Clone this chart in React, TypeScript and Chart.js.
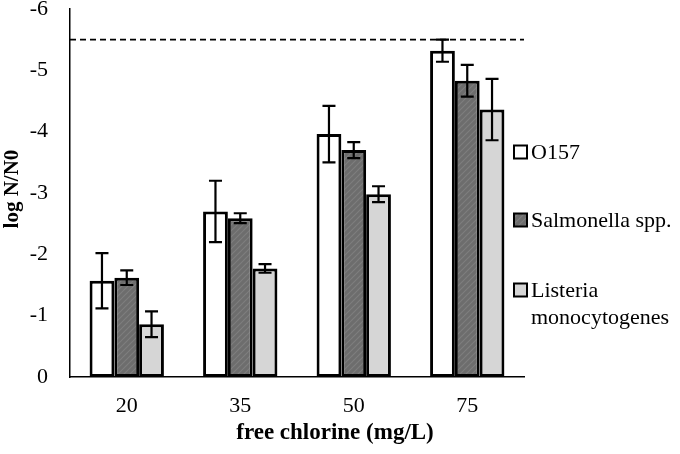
import React, { useEffect, useRef } from "react";
import { Chart, registerables } from "chart.js";

Chart.register(...registerables);

const categories = ["20", "35", "50", "75"];
const seriesNames = ["O157", "Salmonella spp.", "Listeria monocytogenes"];
const o157 = [1.57, 2.7, 3.96, 5.32];
const o157Err = [0.45, 0.5, 0.46, 0.18];
const salmonella = [1.62, 2.59, 3.7, 4.83];
const salmonellaErr = [0.12, 0.08, 0.13, 0.26];
const listeria = [0.86, 1.77, 2.98, 4.36];
const listeriaErr = [0.21, 0.07, 0.13, 0.5];
const threshold = 5.5;
const yMin = 0;
const yMax = 6;
const xTitle = "free chlorine (mg/L)";
const yTitle = "log N/N0";

const FONT = "'Liberation Serif', 'Times New Roman', serif";

function makePattern(): CanvasPattern | string {
  const c = document.createElement("canvas");
  c.width = 6;
  c.height = 6;
  const g = c.getContext("2d");
  if (!g) return "#717171";
  g.fillStyle = "#6d6d6d";
  g.fillRect(0, 0, 6, 6);
  g.strokeStyle = "#7e7e7e";
  g.lineWidth = 1.2;
  g.beginPath();
  g.moveTo(0, 6);
  g.lineTo(6, 0);
  g.moveTo(-3, 3);
  g.lineTo(3, -3);
  g.moveTo(3, 9);
  g.lineTo(9, 3);
  g.stroke();
  const p = g.createPattern(c, "repeat");
  return p || "#717171";
}

export default function App() {
  const ref = useRef<HTMLCanvasElement | null>(null);

  useEffect(() => {
    if (!ref.current) return;
    const pattern = makePattern();
    const fills: any[] = ["#ffffff", pattern, "#d6d6d6"];
    const errs = [o157Err, salmonellaErr, listeriaErr];

    const extras = {
      id: "extras",
      beforeDatasetsDraw(chart: any) {
        const ctx = chart.ctx;
        const y = chart.scales.y;
        const area = chart.chartArea;
        const py = y.getPixelForValue(threshold);
        ctx.save();
        ctx.strokeStyle = "#000";
        ctx.lineWidth = 1.6;
        ctx.setLineDash([6, 4]);
        ctx.beginPath();
        ctx.moveTo(area.left, py);
        ctx.lineTo(area.right, py);
        ctx.stroke();
        ctx.restore();
      },
      afterDatasetsDraw(chart: any) {
        const ctx = chart.ctx;
        const y = chart.scales.y;
        ctx.save();
        ctx.strokeStyle = "#000";
        ctx.lineWidth = 2.2;
        chart.data.datasets.forEach((ds: any, i: number) => {
          const meta = chart.getDatasetMeta(i);
          meta.data.forEach((bar: any, j: number) => {
            const v = ds.data[j];
            const e = errs[i][j];
            const x = bar.x;
            const t = y.getPixelForValue(v + e);
            const b = y.getPixelForValue(v - e);
            const cw = 6.5;
            ctx.beginPath();
            ctx.moveTo(x, t);
            ctx.lineTo(x, b);
            ctx.moveTo(x - cw, t);
            ctx.lineTo(x + cw, t);
            ctx.moveTo(x - cw, b);
            ctx.lineTo(x + cw, b);
            ctx.stroke();
          });
        });
        ctx.restore();
      },
      afterDraw(chart: any) {
        const ctx = chart.ctx;
        const area = chart.chartArea;
        ctx.save();
        ctx.fillStyle = "#000";
        ctx.font = `bold 23px ${FONT}`;
        ctx.textAlign = "center";
        ctx.textBaseline = "middle";
        ctx.fillText(xTitle, 335, 433);
        ctx.save();
        ctx.translate(13, (area.top + area.bottom) / 2 - 4);
        ctx.rotate(-Math.PI / 2);
        ctx.font = `bold 21px ${FONT}`;
        ctx.fillText(yTitle, 0, 0);
        ctx.restore();
        const rows = [
          { lines: ["O157"], y: 152 },
          { lines: ["Salmonella spp."], y: 220 },
          { lines: ["Listeria", "monocytogenes"], y: 290 },
        ];
        ctx.font = `22px ${FONT}`;
        ctx.textAlign = "left";
        rows.forEach((r, i) => {
          ctx.fillStyle = fills[i];
          ctx.fillRect(514, r.y - 6.5, 13, 13);
          ctx.strokeStyle = "#000";
          ctx.lineWidth = 2;
          ctx.strokeRect(514, r.y - 6.5, 13, 13);
          ctx.fillStyle = "#000";
          r.lines.forEach((ln, k) => {
            ctx.fillText(ln, 531, r.y + 1 + k * 27);
          });
        });
        ctx.restore();
      },
    };

    const mk = (label: string, data: number[], fill: any) => ({
      label,
      data,
      backgroundColor: fill,
      borderColor: "#000",
      borderWidth: 3,
      borderSkipped: false,
      barPercentage: 1,
      categoryPercentage: 0.655,
    });

    const chart = new Chart(ref.current, {
      type: "bar",
      data: {
        labels: categories,
        datasets: [
          mk(seriesNames[0], o157, fills[0]),
          mk(seriesNames[1], salmonella, fills[1]),
          mk(seriesNames[2], listeria, fills[2]),
        ],
      },
      options: {
        responsive: false,
        animation: false,
        layout: { padding: { left: 0, right: 156, top: 9, bottom: 0 } },
        plugins: {
          legend: { display: false },
          tooltip: { enabled: false },
        },
        scales: {
          x: {
            grid: { display: false },
            border: { display: true, color: "#000", width: 1.5 },
            ticks: {
              color: "#000",
              font: { family: FONT, size: 22 },
              padding: 8,
            },
            afterFit(scale: any) {
              scale.height = 77;
              scale.paddingLeft = 0;
              scale.paddingRight = 0;
            },
          },
          y: {
            min: yMin,
            max: yMax,
            grid: { display: false },
            border: { display: true, color: "#000", width: 1.5 },
            ticks: {
              stepSize: 1,
              color: "#000",
              font: { family: FONT, size: 22 },
              padding: 14,
              callback: (v: any) => (Number(v) === 0 ? "0" : "-" + v),
            },
            afterFit(scale: any) {
              scale.width = 70;
              scale.paddingTop = 0;
              scale.paddingBottom = 0;
            },
          },
        },
      },
      plugins: [extras],
    });
    return () => chart.destroy();
  }, []);

  return (
    <div style={{ position: "absolute", left: 0, top: 0, width: 680, height: 454, background: "#fff" }}>
      <canvas ref={ref} width={680} height={454} style={{ width: 680, height: 454 }} />
    </div>
  );
}
